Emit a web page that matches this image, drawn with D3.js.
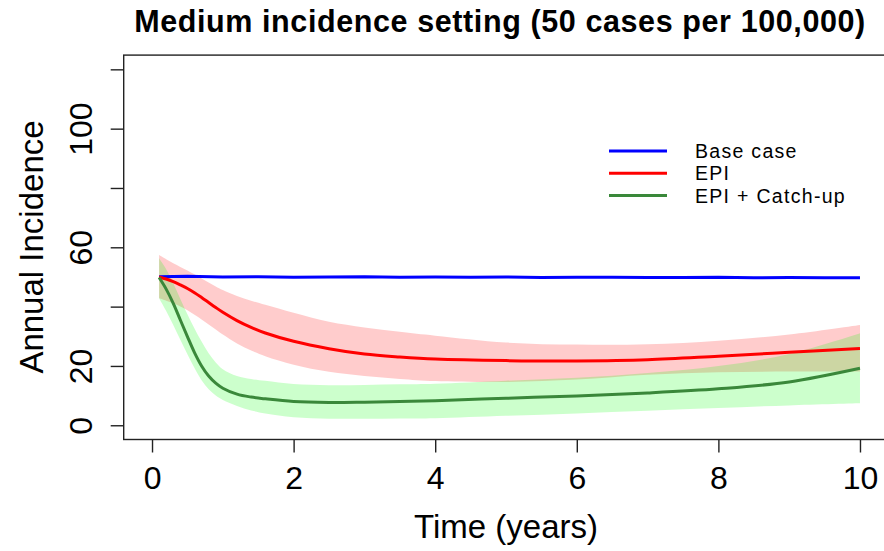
<!DOCTYPE html>
<html>
<head>
<meta charset="utf-8">
<script src="https://cdn.jsdelivr.net/npm/d3@7"></script>
<style>
  body { margin: 0; background: #fff; }
  svg { display: block; font-family: "Liberation Sans", Arial, sans-serif; }
</style>
</head>
<body>
<svg id="chart" width="884" height="551"></svg>
<script>
// time points (years)
var time = [0.1, 0.2, 0.3, 0.4, 0.5, 0.6, 0.7, 0.8, 0.9, 1, 1.2, 1.4, 1.6, 2, 2.5, 3, 3.5, 4, 5, 6, 7, 8, 9, 10]

// EPI
var epiMid = [50, 49.3, 48.4, 47.3, 46.1, 44.7, 43.1, 41.4, 39.7, 38.1, 35.3, 33.0, 31.1, 28.3, 25.8, 24.0, 23.0, 22.3, 21.8, 21.7, 22.1, 23.3, 24.6, 25.9]
var epiHi  = [57.4, 56.0, 54.6, 53.4, 52.2, 50.9, 49.5, 48.1, 46.8, 45.6, 43.6, 42.0, 40.6, 37.9, 34.9, 33.0, 31.5, 30.2, 27.9, 27.2, 27.3, 28.5, 30.6, 33.8]
var epiLo  = [42.8, 42.0, 41.1, 40.0, 38.8, 37.3, 35.7, 34.0, 32.3, 30.6, 27.6, 25.2, 23.3, 20.4, 18.0, 16.6, 15.6, 14.9, 14.6, 15.4, 17.0, 17.9, 18.1, 18.1]

// EPI + Catch-up
var catchMid = [49.8, 45.9, 41.1, 35.5, 29.9, 24.5, 20.0, 16.6, 14.2, 12.5, 10.5, 9.5, 8.9, 8.0, 7.7, 7.8, 8.0, 8.3, 9.1, 9.9, 10.9, 12.3, 14.6, 19.2]
var catchHi  = [56.3, 52.6, 47.9, 42.6, 37.4, 32.6, 28.2, 24.3, 21.2, 18.9, 16.6, 15.6, 15.0, 13.9, 13.5, 13.6, 13.8, 14.0, 15.0, 16.0, 17.6, 20.0, 24.0, 31.0]
var catchLo  = [42.8, 38.5, 33.8, 28.8, 23.9, 19.3, 15.2, 12.1, 10.0, 8.5, 6.5, 5.0, 4.0, 2.7, 2.2, 2.2, 2.3, 2.4, 3.2, 4.0, 4.9, 5.8, 6.7, 7.4]

// base case (slightly noisy)
var baseTime = [0.1, 0.5, 1, 1.5, 2, 2.5, 3, 3.5, 4, 4.5, 5, 5.5, 6, 6.5, 7, 7.5, 8, 8.5, 9, 9.5, 10]
var baseVal  = [50.1, 50.2, 50.0, 50.1, 49.9, 50.0, 50.1, 49.9, 50.0, 49.9, 50.0, 49.8, 49.9, 49.9, 49.8, 49.8, 49.9, 49.7, 49.8, 49.7, 49.7]

var xTicks = [0, 2, 4, 6, 8, 10]
var yTicks = [0, 20, 40, 60, 80, 100, 120]
var yLabels = [0, 20, 60, 100]

var legendNames = ["Base case", "EPI", "EPI + Catch-up"]
var legendColors = ["#0000ff", "#ff0000", "#3a883a"]

var svg = d3.select("#chart")

var x = d3.scaleLinear().domain([-0.4, 10.4]).range([123.7, 888.3])
var y = d3.scaleLinear().domain([-4.8, 124.8]).range([439.5, 55.1])

function rows(mid, lo, hi) {
	return time.map(function(t, i) { return {t: t, v: mid[i], lo: lo[i], hi: hi[i]} })
}
var epi = rows(epiMid, epiLo, epiHi)
var catchup = rows(catchMid, catchLo, catchHi)
var base = baseTime.map(function(t, i) { return {t: t, v: baseVal[i]} })

var smooth = d3.curveCatmullRom.alpha(0.5)

var band = d3.area()
	.curve(smooth)
	.x(function(d) { return x(d.t) })
	.y0(function(d) { return y(d.lo) })
	.y1(function(d) { return y(d.hi) })

var line = d3.line()
	.curve(smooth)
	.x(function(d) { return x(d.t) })
	.y(function(d) { return y(d.v) })

var baseLine = d3.line()
	.x(function(d) { return x(d.t) })
	.y(function(d) { return y(d.v) })

// bands
svg.append("path").datum(epi).attr("d", band)
	.attr("fill", "rgba(255,0,0,0.2)")
svg.append("path").datum(catchup).attr("d", band)
	.attr("fill", "rgba(0,255,0,0.2)")

// lines
svg.append("path").datum(base).attr("d", baseLine)
	.attr("fill", "none").attr("stroke", legendColors[0]).attr("stroke-width", 3)
svg.append("path").datum(epi).attr("d", line)
	.attr("fill", "none").attr("stroke", legendColors[1]).attr("stroke-width", 3)
svg.append("path").datum(catchup).attr("d", line)
	.attr("fill", "none").attr("stroke", legendColors[2]).attr("stroke-width", 3)

// box
svg.append("rect")
	.attr("x", 123.7).attr("y", 55.1)
	.attr("width", 888.3 - 123.7).attr("height", 439.5 - 55.1)
	.attr("fill", "none").attr("stroke", "#222").attr("stroke-width", 1.4)

// x axis
var gx = svg.append("g")
	.attr("transform", "translate(0,439.5)")
	.call(d3.axisBottom(x).tickValues(xTicks).tickSize(13).tickFormat(d3.format("d")))
gx.select(".domain").remove()
gx.selectAll("line").attr("stroke", "#222").attr("stroke-width", 1.4)
gx.selectAll("text")
	.attr("y", 49.5).attr("dy", null)
	.attr("font-size", 32).attr("font-family", null).attr("fill", "#000")

// y axis
var gy = svg.append("g")
	.attr("transform", "translate(123.7,0)")
	.call(d3.axisLeft(y).tickValues(yTicks).tickSize(13)
		.tickFormat(function(d) { return yLabels.indexOf(d) >= 0 ? d : "" }))
gy.select(".domain").remove()
gy.selectAll("line").attr("stroke", "#222").attr("stroke-width", 1.4)
gy.selectAll("text")
	.attr("transform", "rotate(-90)")
	.attr("x", 0).attr("y", -32).attr("dy", null)
	.attr("text-anchor", "middle")
	.attr("font-size", 32).attr("font-family", null).attr("fill", "#000")

// titles
svg.append("text")
	.attr("x", 500).attr("y", 32.3)
	.attr("text-anchor", "middle")
	.attr("font-size", 30.5).attr("font-weight", "bold")
	.attr("letter-spacing", 0.6)
	.text("Medium incidence setting (50 cases per 100,000)")

svg.append("text")
	.attr("x", 506).attr("y", 538)
	.attr("text-anchor", "middle")
	.attr("font-size", 33)
	.text("Time (years)")

svg.append("text")
	.attr("transform", "translate(43,247) rotate(-90)")
	.attr("text-anchor", "middle")
	.attr("font-size", 33)
	.text("Annual Incidence")

// legend
var leg = svg.append("g").selectAll("g")
	.data(legendNames)
	.join("g")
	.attr("transform", function(d, i) { return "translate(0," + (151 + i * 22.2) + ")" })
leg.append("line")
	.attr("x1", 609).attr("x2", 667)
	.attr("stroke", function(d, i) { return legendColors[i] })
	.attr("stroke-width", 3)
leg.append("text")
	.attr("x", 695).attr("y", 7.2)
	.attr("font-size", 19.5)
	.attr("letter-spacing", 1.3)
	.text(function(d) { return d })
</script>
</body>
</html>
